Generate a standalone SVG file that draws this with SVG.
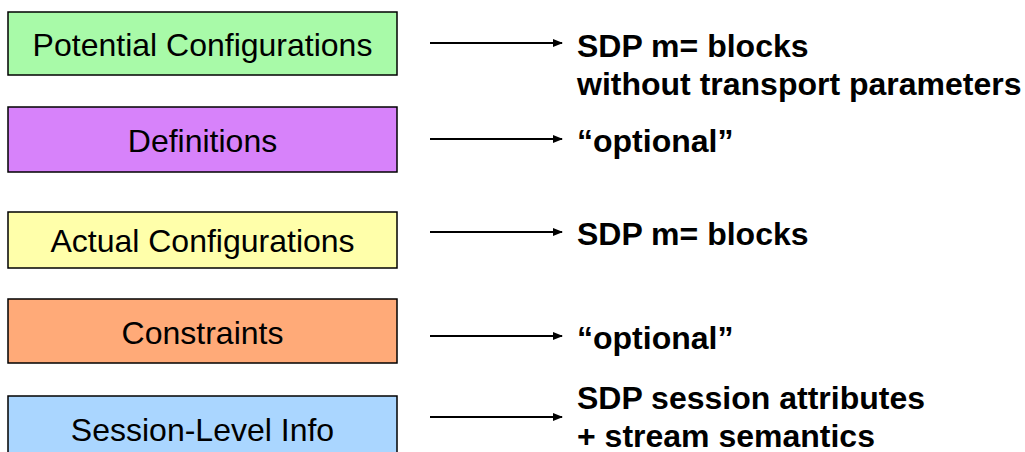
<svg xmlns="http://www.w3.org/2000/svg" width="1025" height="452" viewBox="0 0 1025 452">
<defs>
<style>
.box{stroke:#000;stroke-width:1.5}
.lbl{font-family:"Liberation Sans",Arial,sans-serif;font-size:32px;fill:#000;text-anchor:middle}
.note{font-family:"Liberation Sans",Arial,sans-serif;font-size:32px;font-weight:bold;fill:#000}
.conn{stroke:#000;stroke-width:2;fill:none}
</style>
<marker id="ah" viewBox="0 0 10 10" refX="9" refY="5" markerWidth="5" markerHeight="5" orient="auto" markerUnits="strokeWidth">
<path d="M0,1 L10,5 L0,9 Z" fill="#000"/>
</marker>
</defs>
<rect width="1025" height="452" fill="#fff"/>
<g id="potential">
<rect class="box" x="8" y="12" width="389" height="63" fill="#A8FAA8"/>
<text class="lbl" x="202.5" y="56">Potential Configurations</text>
</g>
<g id="definitions">
<rect class="box" x="8" y="107" width="389" height="65" fill="#D782FA"/>
<text class="lbl" x="202.5" y="152">Definitions</text>
</g>
<g id="actual">
<rect class="box" x="8" y="212" width="389" height="56" fill="#FFFFAA"/>
<text class="lbl" x="202.5" y="252">Actual Configurations</text>
</g>
<g id="constraints">
<rect class="box" x="8" y="299" width="389" height="64" fill="#FFAA78"/>
<text class="lbl" x="202.5" y="344">Constraints</text>
</g>
<g id="session">
<rect class="box" x="8" y="396" width="389" height="64" fill="#AAD6FF"/>
<text class="lbl" x="202.5" y="441">Session-Level Info</text>
</g>
<g id="connectors">
<line class="conn" x1="430" y1="43" x2="562" y2="43" marker-end="url(#ah)"/>
<line class="conn" x1="430" y1="139" x2="562" y2="139" marker-end="url(#ah)"/>
<line class="conn" x1="430" y1="232" x2="562" y2="232" marker-end="url(#ah)"/>
<line class="conn" x1="430" y1="336" x2="562" y2="336" marker-end="url(#ah)"/>
<line class="conn" x1="430" y1="417" x2="562" y2="417" marker-end="url(#ah)"/>
</g>
<g id="notes">
<text class="note" x="577" y="57">SDP m= blocks</text>
<text class="note" x="577" y="95">without transport parameters</text>
<text class="note" x="577" y="152">“optional”</text>
<text class="note" x="577" y="245">SDP m= blocks</text>
<text class="note" x="577" y="349">“optional”</text>
<text class="note" x="577" y="409">SDP session attributes</text>
<text class="note" x="577" y="447">+ stream semantics</text>
</g>
</svg>
